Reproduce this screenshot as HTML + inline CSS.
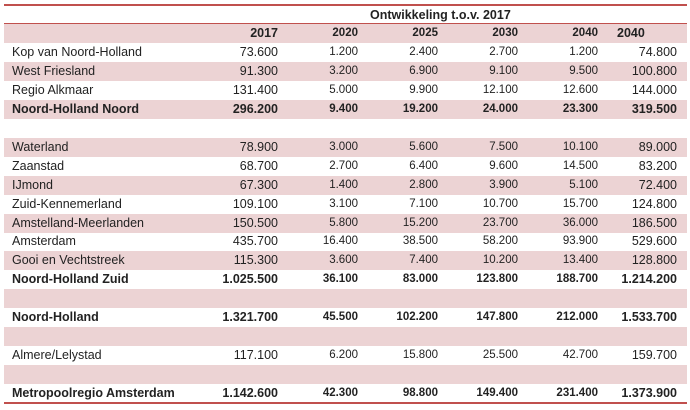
<!DOCTYPE html>
<html><head><meta charset="utf-8"><style>
body{margin:0;width:690px;height:410px;background:#fff;position:relative;overflow:hidden;font-family:"Liberation Sans",sans-serif;color:#222}
.r{position:absolute;left:4px;width:683px;height:19px}
.p{background:#ecd3d4}
.c{position:absolute;top:0;line-height:19px;white-space:nowrap}
.l{left:8px;font-size:12.5px}
.n{text-align:right;font-size:12.5px}
.s{font-size:11.5px}
.b{font-weight:bold}
.line{position:absolute;left:4px;width:683px;background:#c0504d}
</style></head><body>
<div class="line" style="top:4px;height:2px"></div>
<div style="position:absolute;left:370px;top:8px;font-size:12.5px;font-weight:bold">Ontwikkeling t.o.v. 2017</div>
<div class="line" style="top:23px;height:2px"></div>
<div id="t"></div>
<div class="line" style="top:402px;height:2px"></div>
<script>
var rows=[
["",["2017","2020","2025","2030","2040","2040"],1,1,1],
["Kop van Noord-Holland",["73.600","1.200","2.400","2.700","1.200","74.800"],0,0],
["West Friesland",["91.300","3.200","6.900","9.100","9.500","100.800"],1,0],
["Regio Alkmaar",["131.400","5.000","9.900","12.100","12.600","144.000"],0,0],
["Noord-Holland Noord",["296.200","9.400","19.200","24.000","23.300","319.500"],1,1],
["",null,0,0],
["Waterland",["78.900","3.000","5.600","7.500","10.100","89.000"],1,0],
["Zaanstad",["68.700","2.700","6.400","9.600","14.500","83.200"],0,0],
["IJmond",["67.300","1.400","2.800","3.900","5.100","72.400"],1,0],
["Zuid-Kennemerland",["109.100","3.100","7.100","10.700","15.700","124.800"],0,0],
["Amstelland-Meerlanden",["150.500","5.800","15.200","23.700","36.000","186.500"],1,0],
["Amsterdam",["435.700","16.400","38.500","58.200","93.900","529.600"],0,0],
["Gooi en Vechtstreek",["115.300","3.600","7.400","10.200","13.400","128.800"],1,0],
["Noord-Holland Zuid",["1.025.500","36.100","83.000","123.800","188.700","1.214.200"],0,1],
["",null,1,0],
["Noord-Holland",["1.321.700","45.500","102.200","147.800","212.000","1.533.700"],0,1],
["",null,1,0],
["Almere/Lelystad",["117.100","6.200","15.800","25.500","42.700","159.700"],0,0],
["",null,1,0],
["Metropoolregio Amsterdam",["1.142.600","42.300","98.800","149.400","231.400","1.373.900"],0,1]
];
var rights=[274,354,434,514,594,673];
var h="";
rows.forEach(function(r,i){
 var top=24+i*18.95;
 h+='<div class="r'+(r[2]?' p':'')+'" style="top:'+top+'px">';
 if(r[0])h+='<div class="c l'+(r[3]?' b':'')+'">'+r[0]+'</div>';
 if(r[1])r[1].forEach(function(v,j){
  var cls='c n'+(r[3]?' b':'')+((j>0&&j<5)?' s':'');
  if(i==0&&j==5){h+='<div class="c b" style="left:613px;font-size:12.5px">'+v+'</div>';return;}
  h+='<div class="'+cls+'" style="right:'+(683-rights[j])+'px">'+v+'</div>';
 });
 h+='</div>';
});
document.getElementById('t').innerHTML=h;
</script>
</body></html>
